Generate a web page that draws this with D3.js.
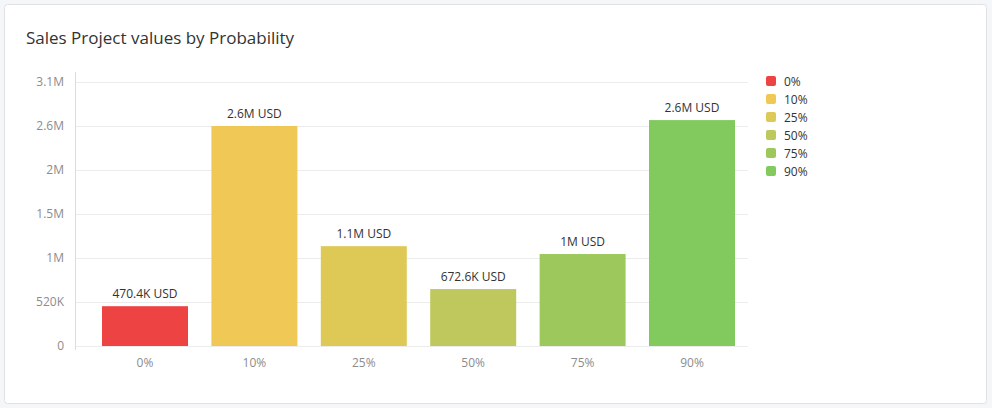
<!DOCTYPE html>
<html>
<head>
	<meta charset="utf-8">
	<title>Sales Project values by Probability</title>
	<script src="https://cdn.jsdelivr.net/npm/d3@7"></script>
	<style>
		body { margin: 0; background: #f5f6f8; font-family: "Open Sans", sans-serif; }
		.grid line { stroke: #ececec; }
		.axis path, .axis line { display: none; }
		.axis text { fill: #8c8c8c; font-size: 12px; font-family: "Open Sans", sans-serif; }
		.barLabel { fill: #333; font-size: 12px; text-anchor: middle; }
		.legend text { fill: #333; font-size: 12px; }
	</style>
</head>
<body>
<script>
	var width = 992, height = 408;

	// data
	var categories = ["0%", "10%", "25%", "50%", "75%", "90%"];
	var values = [470400, 2600000, 1180000, 672600, 1087000, 2670000];
	var colors = ["#ee4343", "#f0c855", "#dec856", "#bec85c", "#9dc95c", "#82c95e"];
	var yTicks = [0, 520000, 1040000, 1560000, 2080000, 2600000, 3120000];
	var yTickLabels = ["0", "520K", "1M", "1.5M", "2M", "2.6M", "3.1M"];

	var plot = {left: 75, right: 748, top: 72, bottom: 346};

	// short money format, truncates to one decimal
	function shortFmt(v) {
		if (v >= 1e6) return (Math.floor(v / 1e5) / 10) + "M";
		if (v >= 1e3) return (Math.floor(v / 100) / 10) + "K";
		return "" + v;
	}

	var svg = d3.select("body").append("svg")
		.attr("width", width)
		.attr("height", height);

	// card
	svg.append("rect")
		.attr("x", 4.5).attr("y", 4.5)
		.attr("width", 982).attr("height", 399)
		.attr("rx", 3)
		.attr("fill", "#fff")
		.attr("stroke", "#dfe1e5");

	svg.append("text")
		.attr("x", 26).attr("y", 44)
		.attr("fill", "#333")
		.style("font-size", "17px")
		.text("Sales Project values by Probability");

	var x = d3.scaleBand()
		.domain(categories)
		.range([90.3, 746.7])
		.paddingInner(0.214)
		.paddingOuter(0.107);

	var y = d3.scaleLinear()
		.domain([0, yTicks[yTicks.length - 1]])
		.range([plot.bottom, plot.top + 10]);

	// gridlines
	svg.append("g").attr("class", "grid")
		.selectAll("line")
		.data(yTicks)
		.enter().append("line")
		.attr("x1", plot.left).attr("x2", plot.right)
		.attr("y1", function(d){ return Math.round(y(d)) + 0.5; })
		.attr("y2", function(d){ return Math.round(y(d)) + 0.5; });

	// y axis line
	svg.append("line")
		.attr("x1", plot.left + 0.5).attr("x2", plot.left + 0.5)
		.attr("y1", plot.top).attr("y2", plot.bottom + 4)
		.attr("stroke", "#dcdcdc");

	var yAxis = d3.axisLeft(y)
		.tickValues(yTicks)
		.tickSize(0)
		.tickPadding(11)
		.tickFormat(function(d, i){ return yTickLabels[i]; });

	svg.append("g").attr("class", "axis")
		.attr("transform", "translate(" + plot.left + ",0)")
		.call(yAxis);

	var xAxis = d3.axisBottom(x).tickSize(0).tickPadding(12);
	svg.append("g").attr("class", "axis")
		.attr("transform", "translate(0," + plot.bottom + ")")
		.call(xAxis);

	// bars
	svg.selectAll(".bar")
		.data(values)
		.enter().append("rect")
		.attr("class", "bar")
		.attr("x", function(d, i){ return x(categories[i]); })
		.attr("width", x.bandwidth())
		.attr("y", function(d){ return y(d); })
		.attr("height", function(d){ return y(0) - y(d); })
		.attr("fill", function(d, i){ return colors[i]; });

	svg.selectAll(".barLabel")
		.data(values)
		.enter().append("text")
		.attr("class", "barLabel")
		.attr("x", function(d, i){ return x(categories[i]) + x.bandwidth() / 2; })
		.attr("y", function(d){ return y(d) - 8; })
		.text(function(d){ return shortFmt(d) + " USD"; });

	// legend
	var legend = svg.append("g").attr("class", "legend")
		.attr("transform", "translate(766,76)");
	var item = legend.selectAll("g")
		.data(categories)
		.enter().append("g")
		.attr("transform", function(d, i){ return "translate(0," + i * 18 + ")"; });
	item.append("rect")
		.attr("width", 10).attr("height", 10).attr("rx", 2)
		.attr("fill", function(d, i){ return colors[i]; });
	item.append("text")
		.attr("x", 18).attr("y", 9.5)
		.text(function(d){ return d; });
</script>
</body>
</html>
